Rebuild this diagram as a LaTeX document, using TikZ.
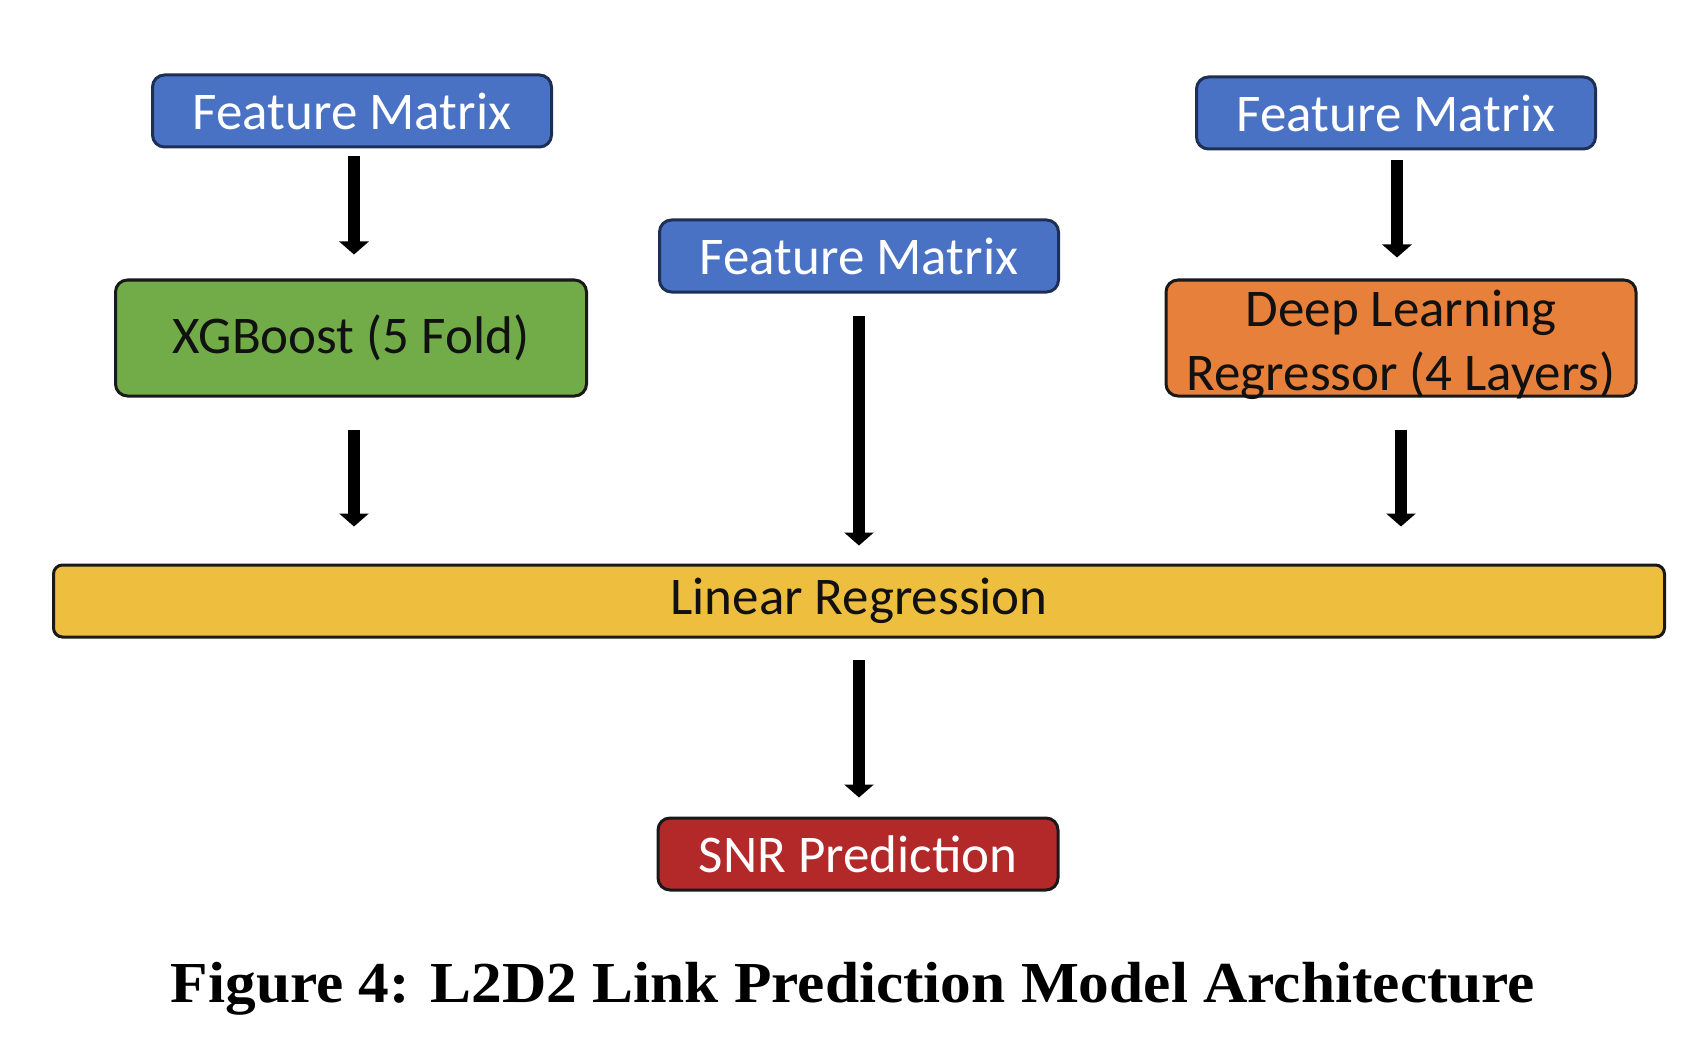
\documentclass[tikz,border=0pt]{standalone}
\usepackage{fontspec}
\setmainfont{Carlito}
\newfontfamily\capfont{Liberation Serif}
\usetikzlibrary{arrows.meta,calc}
\definecolor{fmblue}{HTML}{4A72C4}
\definecolor{fmborder}{HTML}{1E2F55}
\definecolor{xgreen}{HTML}{72AC48}
\definecolor{dlorange}{HTML}{E6803A}
\definecolor{lryellow}{HTML}{EEBF3F}
\definecolor{snrred}{HTML}{B32828}
\definecolor{txtdark}{HTML}{111111}
\tikzset{
  box/.style={draw=black!90, line width=3pt, rounded corners=12pt, inner sep=0pt, align=center,
    font=\fontsize{53}{65}\selectfont},
  fmbox/.style={box, fill=fmblue, draw=fmborder, text=white, minimum width=399pt, minimum height=72pt},
  flowarrow/.style={line width=12pt, -{Triangle[width=29pt,length=13pt]}}
}
\begin{document}
\begin{tikzpicture}[x=1pt,y=-1pt]
\useasboundingbox (0,0) rectangle (1698,1043);
\node[fmbox] (fm1) at (352,111) {Feature Matrix};
\node[fmbox] (fm2) at (859,256) {Feature Matrix};
\node[fmbox] (fm3) at (1396,113) {Feature Matrix};
\node[box, fill=xgreen, text=txtdark, minimum width=471pt, minimum height=116pt] (xgb) at (351,338) {\raisebox{-2pt}{XGBoost (5 Fold)}};
\node[box, fill=dlorange, text=txtdark, minimum width=470pt, minimum height=116pt] (dl) at (1401,338) {\raisebox{-14pt}[0pt][0pt]{\begin{tabular}{@{}c@{}}Deep Learning\\[-1pt]Regressor (4 Layers)\end{tabular}}};
\node[box, fill=lryellow, text=txtdark, rounded corners=9pt, minimum width=1611pt, minimum height=72pt] (lr) at (859,601) {\raisebox{-4pt}{Linear Regression}};
\node[box, fill=snrred, text=white, minimum width=400pt, minimum height=72pt] (snr) at (858,854) {\raisebox{-2pt}{SNR Prediction}};
\node[anchor=base, font=\capfont\bfseries\fontsize{58}{70}\selectfont, inner sep=0pt] (cap) at (853,1002) {\scalebox{1.058}[1]{Figure 4: L2D2 Link Prediction Model Architecture}};
\draw[flowarrow, shorten <=8pt, shorten >=24pt] ([xshift=2pt]fm1.south) -- ([xshift=2pt]fm1.south |- xgb.north);
\draw[flowarrow, shorten <=32pt, shorten >=37pt] ([xshift=3pt]xgb.south) -- ([xshift=3pt]xgb.south |- lr.north);
\draw[flowarrow, shorten <=22pt, shorten >=18pt] (fm2.south) -- (fm2.south |- lr.north);
\draw[flowarrow, shorten <=10pt, shorten >=21pt] ([xshift=1pt]fm3.south) -- ([xshift=1pt]fm3.south |- dl.north);
\draw[flowarrow, shorten <=32pt, shorten >=37pt] (dl.south) -- (dl.south |- lr.north);
\draw[flowarrow, shorten <=21pt, shorten >=19pt] (lr.south) -- (lr.south |- snr.north);
\end{tikzpicture}
\end{document}
